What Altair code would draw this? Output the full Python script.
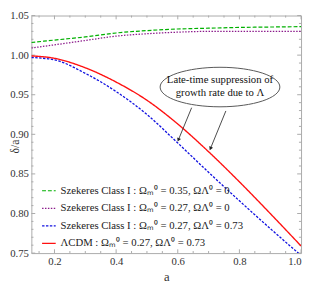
import altair as alt
import pandas as pd

# ---- data ----
a_vals = [0.125, 0.2, 0.3, 0.4, 0.5, 0.6, 0.7, 0.8, 0.9, 1.0]
green_vals = [1.016, 1.019, 1.023, 1.028, 1.031, 1.033, 1.034, 1.035, 1.0355, 1.036]
purple_vals = [1.009, 1.013, 1.0185, 1.024, 1.027, 1.029, 1.030, 1.030, 1.030, 1.030]
blue_vals = [0.997, 0.994, 0.977, 0.954, 0.925, 0.889, 0.852, 0.816, 0.781, 0.747]
red_vals = [0.999, 0.996, 0.984, 0.966, 0.943, 0.913, 0.878, 0.840, 0.800, 0.759]

labels = [
    "Szekeres Class I : Ωₘ⁰ = 0.35,  ΩΛ⁰ = 0",
    "Szekeres Class I : Ωₘ⁰ = 0.27,  ΩΛ⁰ = 0",
    "Szekeres Class I : Ωₘ⁰ =  0.27, ΩΛ⁰ = 0.73",
    "ΛCDM : Ωₘ⁰ = 0.27,  ΩΛ⁰ = 0.73",
]
colors = ["#00b000", "#8b1a8b", "#1010e0", "#ff1010"]
dashes = [[4, 2], [1.5, 1.5], [2.5, 1.5], [1, 0]]
widths = [1.2, 1.4, 1.2, 1.7]

x_major = [0.2, 0.4, 0.6, 0.8, 1.0]
x_minor = [0.15, 0.25, 0.3, 0.35, 0.45, 0.5, 0.55, 0.65, 0.7, 0.75, 0.85, 0.9, 0.95]
y_major = [0.75, 0.80, 0.85, 0.90, 0.95, 1.00, 1.05]
y_minor = [0.76, 0.77, 0.78, 0.79, 0.81, 0.82, 0.83, 0.84, 0.86, 0.87, 0.88, 0.89,
           0.91, 0.92, 0.93, 0.94, 0.96, 0.97, 0.98, 0.99, 1.01, 1.02, 1.03, 1.04]

note_text = ["Late-time suppression of", "growth rate due to Λ"]
note_a = [0.737]
note_d = [0.9597]
arrow_a0 = [0.645, 0.756]
arrow_d0 = [0.9336, 0.9295]
arrow_a1 = [0.602, 0.706]
arrow_d1 = [0.893, 0.882]

X0, X1 = 0.125, 1.0
Y0, Y1 = 0.75, 1.05

rows = []
for lab, ys in zip(labels, [green_vals, purple_vals, blue_vals, red_vals]):
    for a, d in zip(a_vals, ys):
        rows.append({"a": a, "d": d, "series": lab})
df = pd.DataFrame(rows)

xs = alt.Scale(domain=[X0, X1], nice=False, zero=False)
ys_ = alt.Scale(domain=[Y0, Y1], nice=False, zero=False)

SERIF = "Liberation Serif"

leg = alt.Legend(
    title=None, orient="none", legendX=10, legendY=172,
    symbolType="stroke", symbolSize=196, symbolStrokeWidth=1.5,
    labelFont=SERIF, labelFontSize=11, labelColor="#222",
    rowPadding=5, padding=0, labelLimit=400,
)

lines = alt.Chart(df).mark_line(clip=True, interpolate="monotone").encode(
    x=alt.X("a:Q", scale=xs, axis=alt.Axis(
        values=x_major, format=".1f", ticks=False, grid=False, domain=False,
        title="a", labelPadding=3, titlePadding=4)),
    y=alt.Y("d:Q", scale=ys_, axis=alt.Axis(
        values=y_major, format=".2f", ticks=False, grid=False, domain=False,
        title="δ/a", labelPadding=3, titleX=-17, titleY=134, titleFontSize=12,
        titleAlign="center", titleBaseline="middle", titleAngle=270)),
    color=alt.Color("series:N", scale=alt.Scale(domain=labels, range=colors), legend=leg),
    strokeDash=alt.StrokeDash("series:N", scale=alt.Scale(domain=labels, range=dashes), legend=leg),
    strokeWidth=alt.StrokeWidth("series:N", scale=alt.Scale(domain=labels, range=widths), legend=None),
)

# frame ticks (inward)
tick_rows = []
for v in x_major:
    tick_rows.append({"x": v, "x2": v, "y": Y0, "y2": Y0 + 0.0048})
    tick_rows.append({"x": v, "x2": v, "y": Y1, "y2": Y1 - 0.0048})
for v in x_minor:
    tick_rows.append({"x": v, "x2": v, "y": Y0, "y2": Y0 + 0.0026})
    tick_rows.append({"x": v, "x2": v, "y": Y1, "y2": Y1 - 0.0026})
for v in y_major:
    tick_rows.append({"x": X0, "x2": X0 + 0.0126, "y": v, "y2": v})
    tick_rows.append({"x": X1, "x2": X1 - 0.0126, "y": v, "y2": v})
for v in y_minor:
    tick_rows.append({"x": X0, "x2": X0 + 0.0068, "y": v, "y2": v})
    tick_rows.append({"x": X1, "x2": X1 - 0.0068, "y": v, "y2": v})
ticks = alt.Chart(pd.DataFrame(tick_rows)).mark_rule(color="#aaa", strokeWidth=1).encode(
    x=alt.X("x:Q", scale=xs), x2="x2:Q",
    y=alt.Y("y:Q", scale=ys_), y2="y2:Q",
)

note_df = pd.DataFrame({"a": note_a, "d": note_d, "t": ["\n".join(note_text)]})
ellipse_path = "M -1 0 A 1 0.33 0 1 0 1 0 A 1 0.33 0 1 0 -1 0 Z"
ellipse = alt.Chart(note_df).mark_point(
    shape=ellipse_path, size=15129, filled=True, fill="white", fillOpacity=1,
    stroke="#555", strokeWidth=1, strokeOpacity=1,
).encode(x=alt.X("a:Q", scale=xs), y=alt.Y("d:Q", scale=ys_))
note = alt.Chart(note_df).mark_text(
    font=SERIF, fontSize=11, lineBreak="\n", lineHeight=13, color="#111",
    baseline="middle", dy=-7,
).encode(x=alt.X("a:Q", scale=xs), y=alt.Y("d:Q", scale=ys_), text="t:N")

arrow_df = pd.DataFrame({"a0": arrow_a0, "d0": arrow_d0, "a1": arrow_a1, "d1": arrow_d1})
arrow_lines = alt.Chart(arrow_df).mark_rule(color="#333", strokeWidth=0.9).encode(
    x=alt.X("a0:Q", scale=xs), y=alt.Y("d0:Q", scale=ys_), x2="a1:Q", y2="d1:Q",
)
arrow_heads = alt.Chart(arrow_df).mark_point(
    shape="triangle-up", size=18, filled=True, color="#222", angle=204, opacity=1,
).encode(x=alt.X("a1:Q", scale=xs), y=alt.Y("d1:Q", scale=ys_))

chart = alt.layer(ticks, lines, arrow_lines, arrow_heads, ellipse, note).properties(
    width=277, height=244,
    padding={"left": 24, "top": 4, "right": 2, "bottom": 28},
    autosize=alt.AutoSizeParams(type="none"),
).configure_view(stroke="#aaa", strokeWidth=1).configure_axis(
    labelFont=SERIF, labelFontSize=11, labelColor="#333",
    titleFont=SERIF, titleFontSize=13, titleFontWeight="normal", titleColor="#333",
)

chart.save("out.html", embed_options={"renderer": "svg", "actions": False})
